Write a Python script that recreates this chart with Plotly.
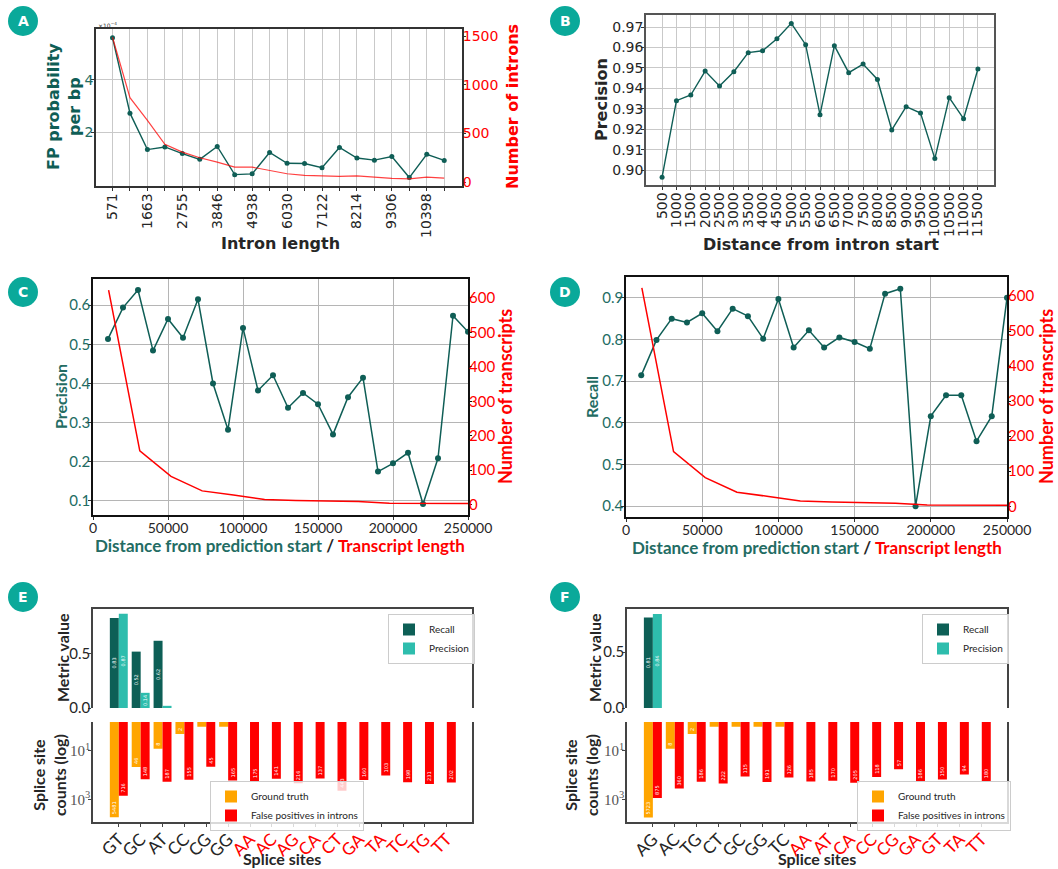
import plotly.graph_objects as go

W, H = 1058, 869
def px(x): return x / W
def py(y): return 1 - y / H

TEAL = "#0f5e56"
TEAL_TXT = "#236c63"
RED = "#ff0000"
GRID = "#c9c9c9"
DARK = "#262626"
BADGE = "#0aa99a"

# ---------------- Panel A data ----------------
intron_len = [571, 1117, 1663, 2209, 2755, 3300, 3846, 4392, 4938, 5484,
              6030, 6576, 7122, 7668, 8214, 8760, 9306, 9852, 10398, 10944]
fp_prob_e4 = [5.59, 2.73, 1.35, 1.45, 1.20, 0.98, 1.47, 0.40, 0.43, 1.24,
              0.83, 0.82, 0.66, 1.43, 1.03, 0.95, 1.09, 0.29, 1.17, 0.94]
n_introns = [1490, 868, 635, 388, 309, 251, 206, 154, 154, 120,
             86, 69, 65, 58, 65, 51, 38, 34, 51, 41]
intron_ticktext = ["571", "", "1663", "", "2755", "", "3846", "", "4938", "",
                   "6030", "", "7122", "", "8214", "", "9306", "", "10398", ""]

# ---------------- Panel B data ----------------
dist_intron = [500, 1000, 1500, 2000, 2500, 3000, 3500, 4000, 4500, 5000, 5500, 6000,
               6500, 7000, 7500, 8000, 8500, 9000, 9500, 10000, 10500, 11000, 11500]
prec_B = [0.8966, 0.9340, 0.9368, 0.9485, 0.9412, 0.9482, 0.9575, 0.9584, 0.9643, 0.9718,
          0.9614, 0.9272, 0.9609, 0.9477, 0.9519, 0.9444, 0.9197, 0.9311, 0.9280, 0.9057,
          0.9355, 0.9252, 0.9495]

# ---------------- Panels C / D data ----------------
dist_pred = [10000, 20000, 30000, 40000, 50000, 60000, 70000, 80000, 90000, 100000,
             110000, 120000, 130000, 140000, 150000, 160000, 170000, 180000, 190000, 200000,
             210000, 220000, 230000, 240000, 250000]
prec_C = [0.514, 0.594, 0.639, 0.484, 0.565, 0.517, 0.615, 0.400, 0.282, 0.542,
          0.382, 0.421, 0.338, 0.376, 0.347, 0.270, 0.365, 0.415, 0.175, 0.196,
          0.223, 0.092, 0.209, 0.573, 0.532]
recall_D = [0.714, 0.799, 0.850, 0.841, 0.863, 0.820, 0.874, 0.856, 0.802, 0.897,
            0.781, 0.822, 0.781, 0.805, 0.794, 0.778, 0.910, 0.922, 0.400, 0.616,
            0.666, 0.666, 0.556, 0.616, 0.900]
trans_len = [10400, 31200, 52000, 72800, 93600, 114400, 135200, 156000, 176800,
             197600, 218400, 239200, 260000]
n_transcripts = [623, 156, 82, 40, 28, 15, 12, 10, 9, 4, 3, 3, 3]

# ---------------- Panel E data ----------------
sites_E = ["GT", "GC", "AT", "CC", "CG", "GG", "AA", "AC", "AG", "CA", "CT", "GA", "TA", "TC", "TG", "TT"]
canon_E = [True, True, True, True, True, True, False, False, False, False, False, False, False, False, False, False]
recall_E = [0.83, 0.52, 0.62, 0, 0, 0, 0, 0, 0, 0, 0, 0, 0, 0, 0, 0]
precision_E = [0.87, 0.14, 0.02, 0, 0, 0, 0, 0, 0, 0, 0, 0, 0, 0, 0, 0]
gt_E = [5481, 46, 8, 2, 1, 1, 0, 0, 0, 0, 0, 0, 0, 0, 0, 0]
fp_E = [716, 148, 187, 155, 45, 165, 175, 141, 216, 137, 443, 160, 103, 198, 231, 202]

# ---------------- Panel F data ----------------
sites_F = ["AG", "AC", "TG", "CT", "GC", "GG", "TC", "AA", "AT", "CA", "CC", "CG", "GA", "GT", "TA", "TT"]
canon_F = [True, True, True, True, True, True, True, False, False, False, False, False, False, False, False, False]
recall_F = [0.81, 0, 0, 0, 0, 0, 0, 0, 0, 0, 0, 0, 0, 0, 0, 0]
precision_F = [0.84, 0, 0, 0, 0, 0, 0, 0, 0, 0, 0, 0, 0, 0, 0, 0]
gt_F = [5723, 8, 2, 1, 1, 1, 1, 0, 0, 0, 0, 0, 0, 0, 0, 0]
fp_F = [875, 360, 186, 222, 115, 191, 126, 185, 170, 205, 118, 57, 186, 150, 94, 180]

fig = go.Figure()

# ---- A ----
fig.add_trace(go.Scatter(x=intron_len, y=n_introns, mode="lines",
                         line=dict(color="rgba(255,0,0,0.75)", width=1.2),
                         xaxis="x", yaxis="y2", showlegend=False))
fig.add_trace(go.Scatter(x=intron_len, y=fp_prob_e4, mode="lines+markers",
                         line=dict(color=TEAL, width=1.4), marker=dict(size=5, color=TEAL),
                         xaxis="x", yaxis="y", showlegend=False))
# ---- B ----
fig.add_trace(go.Scatter(x=dist_intron, y=prec_B, mode="lines+markers",
                         line=dict(color=TEAL, width=1.4), marker=dict(size=5, color=TEAL),
                         xaxis="x2", yaxis="y3", showlegend=False))
# ---- C ----
fig.add_trace(go.Scatter(x=trans_len, y=n_transcripts, mode="lines",
                         line=dict(color=RED, width=1.5), xaxis="x3", yaxis="y5", showlegend=False))
fig.add_trace(go.Scatter(x=dist_pred, y=prec_C, mode="lines+markers",
                         line=dict(color=TEAL, width=1.5), marker=dict(size=6, color=TEAL),
                         xaxis="x3", yaxis="y4", showlegend=False))
# ---- D ----
fig.add_trace(go.Scatter(x=trans_len, y=n_transcripts, mode="lines",
                         line=dict(color=RED, width=1.5), xaxis="x4", yaxis="y7", showlegend=False))
fig.add_trace(go.Scatter(x=dist_pred, y=recall_D, mode="lines+markers",
                         line=dict(color=TEAL, width=1.5), marker=dict(size=6, color=TEAL),
                         xaxis="x4", yaxis="y6", showlegend=False))

BAR_TXT = dict(color="white", size=5, family="DejaVu Sans")

def metric_bars(cats, vals, name, color, xa, ya, legend):
    fig.add_trace(go.Bar(x=cats, y=vals, name=name, marker=dict(color=color, line=dict(width=0)),
                         text=[f"{v:.2f}" if v >= 0.1 else "" for v in vals],
                         textposition="inside", insidetextanchor="middle", textangle=-90,
                         constraintext="none",
                         textfont=BAR_TXT, xaxis=xa, yaxis=ya, legend=legend))

def count_bars(cats, vals, name, color, xa, ya, legend):
    fig.add_trace(go.Bar(x=cats, y=[v if v > 0 else None for v in vals], name=name,
                         marker=dict(color=color, line=dict(width=0)),
                         text=[str(v) if v >= 2 else "" for v in vals],
                         textposition="inside", insidetextanchor="end", textangle=-90,
                         constraintext="none",
                         textfont=BAR_TXT, xaxis=xa, yaxis=ya, legend=legend))

metric_bars(sites_E, recall_E, "Recall", "#0d5f56", "x5", "y8", "legend")
metric_bars(sites_E, precision_E, "Precision", "#2ebdad", "x5", "y8", "legend")
count_bars(sites_E, gt_E, "Ground truth", "#ffa500", "x6", "y9", "legend2")
count_bars(sites_E, fp_E, "False positives in introns", RED, "x6", "y9", "legend2")
metric_bars(sites_F, recall_F, "Recall", "#0d5f56", "x7", "y10", "legend3")
metric_bars(sites_F, precision_F, "Precision", "#2ebdad", "x7", "y10", "legend3")
count_bars(sites_F, gt_F, "Ground truth", "#ffa500", "x8", "y11", "legend4")
count_bars(sites_F, fp_F, "False positives in introns", RED, "x8", "y11", "legend4")

# ---------------- axes ----------------
def frame_axis(**kw):
    d = dict(showline=True, linecolor="#333333", linewidth=1.5, mirror=True,
             ticks="outside", ticklen=3, tickcolor="#333333", zeroline=False,
             showgrid=True, gridcolor=GRID, gridwidth=1.2, automargin=False)
    d.update(kw)
    return d

def side_axis(**kw):
    d = dict(side="right", showgrid=False, zeroline=False, ticks="outside", ticklen=3,
             showline=False, automargin=False, ticklabelstandoff=-6)
    d.update(kw)
    return d

F_AB = "DejaVu Sans"
F_CD = "Lato"
SX = -4   # x tick label standoff
SY = -5   # y tick label standoff

layout = dict(
    width=W, height=H, margin=dict(l=0, r=0, t=0, b=0, autoexpand=False),
    plot_bgcolor="white", paper_bgcolor="white",
    barmode="group", bargap=0.18, bargroupgap=0,
    font=dict(family=F_AB, color=DARK),
    # A
    xaxis=frame_axis(domain=[px(96), px(462)], anchor="y", range=[55, 11500],
                     tickmode="array", tickvals=intron_len, ticktext=intron_ticktext,
                     tickangle=-90, ticklabelstandoff=-3,
                     tickfont=dict(family=F_AB, size=14, color=DARK)),
    yaxis=frame_axis(domain=[py(186), py(29)], anchor="x", range=[-0.03, 5.92],
                     tickvals=[2, 4], ticklabelstandoff=SY,
                     tickfont=dict(family=F_AB, size=14, color=TEAL_TXT)),
    yaxis2=side_axis(overlaying="y", anchor="x", range=[-40, 1575],
                     tickvals=[0, 500, 1000, 1500], tickcolor="#333333",
                     tickfont=dict(family=F_AB, size=14, color=RED)),
    # B
    xaxis2=frame_axis(domain=[px(646), px(994)], anchor="y3", range=[-60, 12060],
                      tickmode="array", tickvals=dist_intron,
                      ticktext=[str(v) for v in dist_intron], tickangle=-90,
                      ticklabelstandoff=-3, linecolor="#555555",
                      tickfont=dict(family=F_AB, size=14, color=DARK)),
    yaxis3=frame_axis(domain=[py(185), py(15)], anchor="x2", range=[0.8928, 0.9759],
                      tickvals=[0.90, 0.91, 0.92, 0.93, 0.94, 0.95, 0.96, 0.97],
                      tickformat=".2f", linecolor="#555555", ticklabelstandoff=SY,
                      tickfont=dict(family=F_AB, size=14, color=DARK)),
    # C
    xaxis3=frame_axis(domain=[px(93), px(468)], anchor="y4", range=[0, 250000],
                      tickvals=[0, 50000, 100000, 150000, 200000, 250000], tickformat="d",
                      linecolor="#111111", gridcolor="#b5b5b5", ticklabelstandoff=SX,
                      tickfont=dict(family=F_CD, size=14, color=DARK)),
    yaxis4=frame_axis(domain=[py(515), py(279)], anchor="x3", range=[0.064, 0.667],
                      tickvals=[0.1, 0.2, 0.3, 0.4, 0.5, 0.6], linecolor="#111111",
                      gridcolor="#b5b5b5", ticklabelstandoff=SY,
                      tickfont=dict(family=F_CD, size=15, color=TEAL_TXT)),
    yaxis5=side_axis(overlaying="y4", anchor="x3", range=[-30, 655],
                     tickvals=[0, 100, 200, 300, 400, 500, 600], tickcolor="#111111",
                     tickfont=dict(family=F_CD, size=15, color=RED)),
    # D
    xaxis4=frame_axis(domain=[px(626), px(1007)], anchor="y6", range=[0, 250000],
                      tickvals=[0, 50000, 100000, 150000, 200000, 250000], tickformat="d",
                      linecolor="#111111", gridcolor="#b5b5b5", ticklabelstandoff=SX,
                      tickfont=dict(family=F_CD, size=14, color=DARK)),
    yaxis6=frame_axis(domain=[py(517), py(277)], anchor="x4", range=[0.374, 0.950],
                      tickvals=[0.4, 0.5, 0.6, 0.7, 0.8, 0.9], linecolor="#111111",
                      gridcolor="#b5b5b5", ticklabelstandoff=SY,
                      tickfont=dict(family=F_CD, size=15, color=TEAL_TXT)),
    yaxis7=side_axis(overlaying="y6", anchor="x4", range=[-30.5, 654],
                     tickvals=[0, 100, 200, 300, 400, 500, 600], tickcolor="#111111",
                     tickfont=dict(family=F_CD, size=15, color=RED)),
)

def colored_ticks(cats, canon):
    return [t if c else f"<span style='color:#ff0000'>{t}</span>" for t, c in zip(cats, canon)]

def bar_axes(xt, xb, yt, yb, cats, canon, x0, x1, top_max):
    layout["xaxis" + xt] = dict(domain=[px(x0), px(x1)], anchor="y" + yt, type="category",
                                categoryorder="array", categoryarray=cats,
                                range=[-1.18, 16.15], side="top", showline=True,
                                linecolor="#444444", linewidth=1.5, showticklabels=False,
                                ticks="", showgrid=False, zeroline=False, automargin=False)
    layout["yaxis" + yt] = dict(domain=[py(708), py(609)], anchor="x" + xt, range=[0, top_max],
                                tickvals=[0, 0.5], ticktext=["0.0", "0.5"], showline=True,
                                mirror=True, linecolor="#444444", linewidth=1.5,
                                ticks="outside", ticklen=3, tickcolor="#444444",
                                ticklabelstandoff=SY,
                                showgrid=False, zeroline=False, automargin=False,
                                tickfont=dict(family=F_CD, size=15, color=DARK))
    layout["xaxis" + xb] = dict(domain=[px(x0), px(x1)], anchor="y" + yb, type="category",
                                categoryorder="array", categoryarray=cats,
                                range=[-1.18, 16.15], showline=True, linecolor="#444444",
                                linewidth=1.5, ticks="outside", ticklen=3, tickcolor="#444444",
                                tickmode="array", tickvals=cats, ticktext=colored_ticks(cats, canon),
                                tickangle=-45, showgrid=False, zeroline=False, automargin=False,
                                ticklabelstandoff=SX,
                                tickfont=dict(family=F_CD, size=17, color=DARK))
    layout["yaxis" + yb] = dict(domain=[py(822), py(722)], anchor="x" + xb, type="log",
                                range=[3.94, -0.2], tickvals=[10, 1000],
                                ticktext=["10<sup>1</sup>", "10<sup>3</sup>"], showline=True,
                                mirror=True, linecolor="#444444", linewidth=1.5,
                                ticks="outside", ticklen=3, tickcolor="#444444",
                                ticklabelstandoff=SY,
                                showgrid=False, zeroline=False, automargin=False,
                                tickfont=dict(family="Liberation Serif", size=15, color="#555555"))

bar_axes("5", "6", "8", "9", sites_E, canon_E, 93, 472, 0.913)
bar_axes("7", "8", "10", "11", sites_F, canon_F, 627, 1007, 0.885)

def leg(x, y):
    return dict(x=px(x), y=py(y), xanchor="left", yanchor="top",
                bgcolor="rgba(255,255,255,0.8)", bordercolor="#cccccc", borderwidth=1,
                font=dict(family=F_CD, size=10, color=DARK), tracegroupgap=0,
                itemsizing="constant")

layout["legend"] = leg(388, 614)
layout["legend2"] = leg(210, 781)
layout["legend3"] = leg(922, 614)
layout["legend4"] = leg(857, 781)

fig.update_layout(**layout)

# ---------------- titles as annotations ----------------
def title(text, x, y, size=16, color=DARK, angle=0, family=F_AB):
    fig.add_annotation(text=text, x=px(x), y=py(y), xref="paper", yref="paper",
                       xanchor="center", yanchor="middle", showarrow=False, textangle=angle,
                       font=dict(family=family, size=size, color=color))

title("<b>FP probability<br>per bp</b>", 64, 107, 16, TEAL, -90)
title("<b>Number of introns</b>", 513, 107, 16, RED, -90)
title("<b>Intron length</b>", 280, 243, 16)
fig.add_annotation(text="×10<sup>−4</sup>", x=px(96), y=py(25), xref="paper", yref="paper",
                   xanchor="left", yanchor="middle", showarrow=False,
                   font=dict(family=F_AB, size=6, color="#333333"))

title("<b>Precision</b>", 601, 100, 16, DARK, -90)
title("<b>Distance from intron start</b>", 821, 244, 16)

title("<b>Precision</b>", 61, 397, 16, TEAL_TXT, -90, F_CD)
title("<b>Number of transcripts</b>", 505, 397, 18, RED, -90, F_CD)
title("<b><span style='color:#236c63'>Distance from prediction start</span> / "
      "<span style='color:#ff0000'>Transcript length</span></b>", 280, 545, 17, DARK, 0, F_CD)

title("<b>Recall</b>", 592, 397, 16, TEAL_TXT, -90, F_CD)
title("<b>Number of transcripts</b>", 1046, 397, 18, RED, -90, F_CD)
title("<b><span style='color:#236c63'>Distance from prediction start</span> / "
      "<span style='color:#ff0000'>Transcript length</span></b>", 817, 547, 17, DARK, 0, F_CD)

for cx in (0, 532):
    title("<b>Metric value</b>", cx + 62, 658, 16, DARK, -90, F_CD)
    title("<b>Splice site<br>counts (log)</b>", cx + 49, 775, 16, DARK, -90, F_CD)
    title("<b>Splice sites</b>", cx + 282 + (3 if cx else 0), 858, 16, DARK, 0, F_CD)

# ---------------- panel badges ----------------
for letter, cx, cy in [("A", 23, 21), ("B", 565, 21), ("C", 23, 292), ("D", 565, 292),
                       ("E", 23, 597), ("F", 565, 597)]:
    fig.add_shape(type="circle", xref="paper", yref="paper", xsizemode="pixel",
                  ysizemode="pixel", xanchor=px(cx), yanchor=py(cy), x0=-15, x1=15,
                  y0=-15, y1=15, fillcolor=BADGE, line=dict(width=0))
    fig.add_annotation(text=f"<b>{letter}</b>", x=px(cx), y=py(cy), xref="paper", yref="paper",
                       xanchor="center", yanchor="middle", showarrow=False,
                       font=dict(family="DejaVu Sans", size=14, color="white"))

fig.write_html("out.html", config={"displayModeBar": False},
               post_script="document.body.style.margin='0';document.body.style.overflow='hidden';")
